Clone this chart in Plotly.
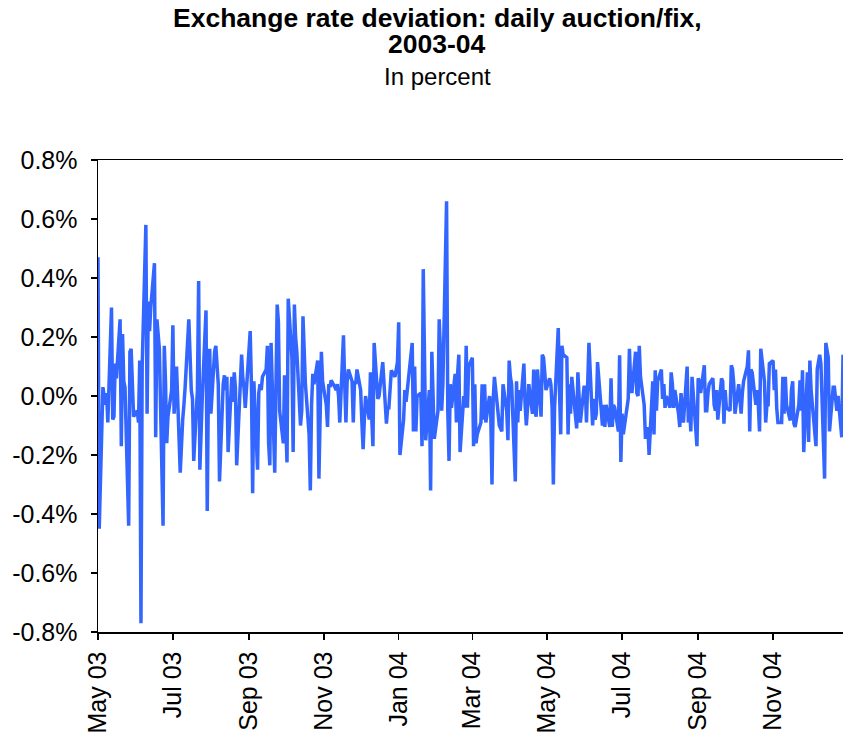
import pandas as pd
import plotly.graph_objects as go

# Daily auction/fix deviation, percent, by month (business days)
months = ["2003-05", "2003-06", "2003-07", "2003-08", "2003-09", "2003-10", "2003-11", "2003-12",
          "2004-01", "2004-02", "2004-03", "2004-04", "2004-05", "2004-06", "2004-07", "2004-08",
          "2004-09", "2004-10", "2004-11", "2004-12"]

may_03 = [0.47, -0.45, 0.03, -0.01, -0.03, 0.01, -0.09, 0.30, -0.08, -0.07, 0.11, 0.06, 0.26, -0.17, 0.21, 0.05, 0.03, -0.44, 0.15, 0.16, 0.02, -0.07]
jun_03 = [-0.05, -0.09, 0.12, -0.77, 0.10, 0.58, -0.06, 0.32, 0.22, 0.30, 0.45, -0.14, 0.26, 0.22, 0.16, -0.44, 0.17, 0.05, -0.16, -0.07, 0.02]
jul_03 = [0.24, -0.06, 0.02, 0.10, -0.26, -0.15, -0.08, -0.03, 0.03, 0.26, 0.10, 0.02, -0.01, -0.22, 0.02, 0.39, -0.25, -0.07, 0.00, 0.29, -0.39, 0.05, 0.16]
aug_03 = [-0.06, 0.15, 0.17, 0.08, 0.04, -0.29, 0.04, 0.07, 0.02, 0.065, -0.19, 0.065, -0.02, 0.08, 0.025, -0.235, 0.025, 0.14, 0.06, 0.025, -0.04]
sep_03 = [0.155, 0.22, 0.04, -0.33, 0.05, -0.25, 0.01, 0.04, 0.02, 0.065, 0.09, 0.17, -0.16, -0.235, 0.18, -0.26, 0.04, 0.31, 0.25, -0.05, -0.16, 0.07]
oct_03 = [-0.10, -0.225, 0.33, 0.13, -0.19, 0.31, 0.20, 0.15, -0.10, -0.05, 0.27, 0.10, 0.04, -0.13, -0.32, -0.03, 0.075, 0.04, 0.12, -0.28, 0.04, 0.15, 0.05]
nov_03 = [-0.03, -0.105, 0.04, 0.03, 0.053, 0.03, 0.02, 0.04, 0.00, -0.09, 0.206, 0.04, -0.09, 0.05, 0.09, 0.05, -0.09, 0.05, 0.04, 0.09]
dec_03 = [0.02, -0.09, -0.18, -0.08, 0.00, -0.08, 0.08, -0.07, -0.17, 0.18, -0.01, 0.00, 0.04, 0.08, 0.115, -0.094, -0.04, -0.04, 0.02, 0.087, 0.065, 0.10, 0.115]
jan_04 = [0.25, -0.20, -0.08, 0.02, -0.02, 0.02, 0.08, 0.18, -0.12, 0.10, -0.12, 0.00, 0.01, -0.17, 0.43, 0.03, -0.15, 0.02, -0.32, 0.15, 0.02, -0.145]
feb_04 = [-0.05, 0.26, 0.155, -0.05, 0.04, 0.66, -0.05, -0.22, 0.04, -0.04, 0.075, -0.09, 0.075, 0.14, -0.19, 0.00, -0.04, 0.17, -0.04, 0.10]
mar_04 = [0.13, -0.17, 0.04, -0.16, -0.13, -0.09, 0.04, -0.08, 0.04, -0.09, 0.00, -0.06, -0.30, -0.01, 0.065, -0.07, -0.10, -0.11, -0.12, 0.04, -0.05, -0.15, 0.12]
apr_04 = [0.065, 0.04, -0.29, 0.05, -0.09, 0.02, -0.05, 0.11, -0.03, -0.10, -0.04, 0.04, -0.06, 0.09, -0.05, -0.07, 0.09, -0.07, 0.14, 0.13, 0.08, 0.02]
may_04 = [0.06, 0.04, -0.04, -0.30, -0.04, 0.23, 0.02, -0.13, 0.17, 0.14, 0.13, -0.13, 0.04, -0.06, 0.065, -0.05, -0.11, 0.08, -0.05, -0.09, 0.03]
jun_04 = [0.03, -0.09, 0.04, 0.18, -0.10, -0.01, -0.08, -0.06, 0.115, -0.05, -0.10, -0.03, -0.105, -0.03, -0.105, 0.06, -0.105, -0.03, -0.04, -0.12, 0.138, -0.224]
jul_04 = [-0.06, -0.13, -0.04, -0.01, 0.16, 0.04, 0.01, 0.15, 0.01, 0.00, 0.17, 0.065, -0.03, -0.14, -0.14, -0.105, -0.20, 0.05, -0.13, 0.087, -0.05, 0.05]
aug_04 = [0.09, -0.01, 0.04, -0.04, 0.00, -0.04, 0.08, 0.04, -0.04, 0.02, -0.06, -0.105, 0.01, -0.06, -0.09, 0.10, -0.09, -0.03, -0.12, 0.065, -0.13, -0.17]
sep_04 = [0.06, 0.05, 0.01, 0.104, -0.05, -0.05, 0.01, 0.04, 0.06, -0.03, -0.05, 0.02, -0.08, 0.06, 0.05, -0.094, 0.02, -0.04, -0.05, 0.104, 0.09, 0.04]
oct_04 = [-0.06, 0.04, -0.01, -0.06, 0.01, 0.05, 0.10, 0.155, -0.12, 0.09, 0.08, -0.03, 0.02, -0.03, -0.12, 0.16, 0.05, -0.09, -0.03, -0.03, 0.11]
nov_04 = [0.12, 0.02, 0.09, -0.04, -0.09, -0.09, 0.065, -0.06, 0.065, -0.03, -0.083, 0.02, 0.05, -0.094, -0.105, -0.03, 0.053, -0.05, 0.087, -0.19, 0.08, -0.156]
dec_04 = [0.12, 0.02, -0.03, -0.17, 0.09, 0.11, 0.14, 0.11, -0.28, 0.18, 0.15, 0.13, -0.12, 0.03, 0.03, -0.01, -0.05, 0.00, -0.14, 0.14]

monthly_values = [may_03, jun_03, jul_03, aug_03, sep_03, oct_03, nov_03, dec_03,
                  jan_04, feb_04, mar_04, apr_04, may_04, jun_04, jul_04, aug_04,
                  sep_04, oct_04, nov_04, dec_04]

y_tick_values = [-0.8, -0.6, -0.4, -0.2, 0.0, 0.2, 0.4, 0.6, 0.8]
y_tick_labels = ["-0.8%", "-0.6%", "-0.4%", "-0.2%", "0.0%", "0.2%", "0.4%", "0.6%", "0.8%"]

title_lines = ["Exchange rate deviation: daily auction/fix,", "2003-04"]
subtitle = "In percent"

dates, values = [], []
for m, vals in zip(months, monthly_values):
    start = pd.Timestamp(m + "-01")
    bdays = pd.bdate_range(start, start + pd.offsets.MonthEnd(0))
    if len(vals) <= len(bdays):
        d = list(bdays[:len(vals)])
    else:
        span = (start + pd.offsets.MonthEnd(0)) - start
        d = [start + span * (i / len(vals)) for i in range(len(vals))]
    dates.extend(d)
    values.extend(vals)

FONT = "Liberation Sans, Arial, sans-serif"
W, H = 843, 742
# plot area in pixels
PLOT_TOP, PLOT_BOTTOM, PLOT_LEFT, PLOT_RIGHT = 160, 632, 98, 843


def py(px):
    return (PLOT_BOTTOM - px) / (PLOT_BOTTOM - PLOT_TOP)


def px_x(px):
    return (px - PLOT_LEFT) / (PLOT_RIGHT - PLOT_LEFT)


fig = go.Figure()
fig.add_trace(go.Scatter(x=dates, y=values, mode="lines",
                         line=dict(color="#3366FF", width=3.5),
                         hoverinfo="skip", showlegend=False))

fig.update_layout(
    width=W, height=H, autosize=False,
    margin=dict(l=PLOT_LEFT, r=W - PLOT_RIGHT, t=PLOT_TOP, b=H - PLOT_BOTTOM, pad=0),
    paper_bgcolor="white", plot_bgcolor="white",
    font=dict(family=FONT, color="black"),
    annotations=[
        dict(text="<b>" + title_lines[0] + "</b>", xref="paper", yref="paper",
             x=px_x(437), y=py(2), xanchor="center", yanchor="top", borderpad=0,
             showarrow=False, font=dict(size=26.5, family=FONT, color="black")),
        dict(text="<b>" + title_lines[1] + "</b>", xref="paper", yref="paper",
             x=px_x(437), y=py(28), xanchor="center", yanchor="top", borderpad=0,
             showarrow=False, font=dict(size=26.5, family=FONT, color="black")),
        dict(text=subtitle, xref="paper", yref="paper",
             x=px_x(437), y=py(62), xanchor="center", yanchor="top", borderpad=0,
             showarrow=False, font=dict(size=24, family=FONT, color="black")),
    ],
)

fig.update_xaxes(
    type="date", range=["2003-05-01", "2004-12-28"], automargin=False,
    tick0="2003-05-01", dtick="M2", tickformat="%b %y", tickangle=-90,
    showgrid=False, zeroline=False,
    showline=True, linecolor="black", linewidth=1.5, mirror=True,
    ticks="outside", ticklen=6, tickcolor="black", tickwidth=1.5,
    tickfont=dict(size=25, family=FONT, color="black"), ticklabelstandoff=2,
)
fig.update_yaxes(
    range=[-0.8, 0.8], tickvals=y_tick_values, ticktext=y_tick_labels, automargin=False,
    showgrid=False, zeroline=False,
    showline=True, linecolor="black", linewidth=1.5,
    ticks="outside", ticklen=6, tickcolor="black", tickwidth=1.5,
    tickfont=dict(size=25, family=FONT, color="black"), ticklabelstandoff=8,
)

fig.write_html(
    "out.html",
    config={"displayModeBar": False, "staticPlot": True},
    post_script="document.body.style.margin='0';document.body.style.overflow='hidden';",
)
